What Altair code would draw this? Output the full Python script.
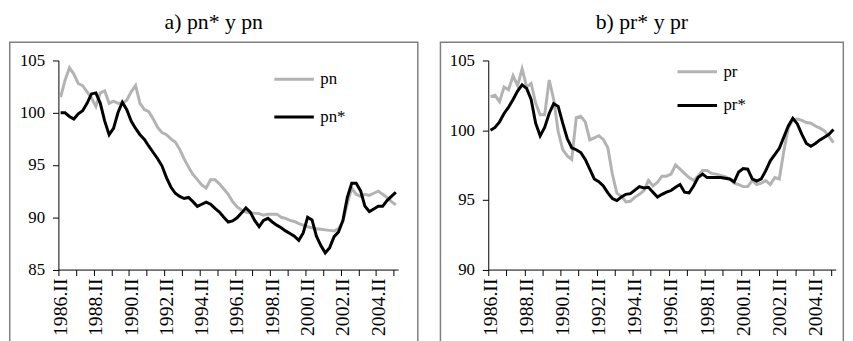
import json
import altair as alt
import pandas as pd

FONT = "Liberation Serif, Times New Roman, DejaVu Serif, serif"

# ---- data -------------------------------------------------------------
tick_labels = ["1986.II", "1988.II", "1990.II", "1992.II", "1994.II",
               "1996.II", "1998.II", "2000.II", "2002.II", "2004.II"]
roman = ["I", "II", "III", "IV"]
quarters = [f"{1986 + (q + 1) // 4}.{roman[(q + 1) % 4]}" for q in range(77)]

pn = [101.5, 103.1, 104.3, 103.7, 102.8, 102.6, 102.0, 101.4, 100.6, 101.9,
      102.1, 100.9, 101.1, 100.9, 100.9, 101.2, 102.0, 102.6, 100.9, 100.3,
      100.1, 99.4, 98.6, 98.1, 97.9, 97.5, 97.2, 96.5, 95.6, 94.8,
      94.1, 93.6, 93.1, 92.8, 93.6, 93.6, 93.2, 92.7, 92.2, 91.5,
      91.0, 90.7, 90.5, 90.4, 90.4, 90.35, 90.2, 90.3, 90.3, 90.3,
      90.0, 89.9, 89.7, 89.6, 89.4, 89.25, 89.1, 89.0, 88.9, 88.85,
      88.8, 88.75, 88.7, 88.9, 89.6, 91.3, 92.8, 92.2, 92.0, 92.2,
      92.1, 92.3, 92.5, 92.2, 91.9, 91.5, 91.2]

pn_star = [100.0, 100.0, 99.65, 99.4, 99.9, 100.2, 100.9, 101.8, 101.9, 100.9,
           99.2, 97.9, 98.5, 100.0, 101.0, 100.3, 99.2, 98.5, 97.9, 97.45,
           96.8, 96.2, 95.6, 94.9, 93.8, 92.9, 92.3, 92.0, 91.8, 91.9,
           91.5, 91.05, 91.25, 91.45, 91.25, 90.85, 90.5, 90.0, 89.55, 89.65,
           89.95, 90.4, 90.9, 90.5, 89.7, 89.1, 89.7, 89.9, 89.55, 89.25,
           89.0, 88.7, 88.45, 88.2, 87.8, 88.5, 90.0, 89.75, 88.2, 87.3,
           86.6, 87.1, 88.15, 88.6, 89.7, 91.9, 93.25, 93.25, 92.55, 91.05,
           90.55, 90.8, 91.05, 91.05, 91.6, 92.0, 92.4]

pr = [102.4, 102.5, 102.05, 103.1, 102.9, 103.9, 103.2, 104.4, 103.1, 103.35,
      101.95, 101.1, 101.1, 103.6, 102.2, 99.9, 98.6, 98.15, 97.9, 100.9,
      101.0, 100.6, 99.3, 99.45, 99.6, 99.34, 98.74, 96.85, 95.48, 95.25,
      94.85, 94.9, 95.2, 95.4, 95.67, 96.4, 96.0, 96.26, 96.7, 96.7,
      96.85, 97.5, 97.2, 96.9, 96.6, 96.4, 96.7, 97.1, 97.1, 96.9,
      96.85, 96.75, 96.66, 96.5, 96.2, 96.1, 95.95, 95.95, 96.38, 96.1,
      96.2, 96.38, 96.1, 96.6, 96.5, 98.5, 100.16, 100.75, 100.8, 100.7,
      100.55, 100.5, 100.3, 100.15, 99.95, 99.55, 99.1]

pr_star = [100.0, 100.2, 100.6, 101.2, 101.65, 102.2, 102.8, 103.25, 103.0, 102.2,
           100.5, 99.6, 100.2, 101.2, 101.9, 101.7, 100.5, 99.4, 98.74, 98.6,
           98.4, 97.9, 97.2, 96.5, 96.3, 96.0, 95.5, 95.1, 94.95, 95.2,
           95.4, 95.45, 95.7, 95.95, 95.86, 95.9, 95.55, 95.2, 95.4, 95.55,
           95.67, 95.9, 96.1, 95.55, 95.5, 96.0, 96.6, 96.85, 96.6, 96.6,
           96.6, 96.6, 96.55, 96.5, 96.3, 97.0, 97.25, 97.2, 96.5, 96.35,
           96.5, 97.1, 97.8, 98.25, 98.7, 99.5, 100.3, 100.85, 100.45, 99.7,
           99.05, 98.85, 99.05, 99.3, 99.5, 99.7, 100.05]

GRAY = "#b3b3b3"
FRAME = "#808080"
H = 211.6


def long_df(names, series):
    rows = []
    for name, vals in zip(names, series):
        for i, v in enumerate(vals):
            rows.append({"idx": i, "quarter": quarters[i], "value": v, "serie": name})
    return pd.DataFrame(rows)


def panel(df, names, ydom, yvals, W, frame, leg_x, leg_y, row_pad, title):
    cw = W / 77.0
    label_expr = ("datum.value % 8 === 0 ? " + json.dumps(tick_labels)
                  + "[datum.value / 8] : ''")
    x_axis = alt.Axis(
        values=list(range(0, 77, 4)), labelExpr=label_expr,
        tickOffset=-cw / 2, labelOffset=cw / 2,
        labelAngle=-90, labelAlign="right", labelBaseline="middle",
        labelOverlap=False, labelFlush=False, labelPadding=2.5,
        labelFont=FONT, labelFontSize=20, labelColor="black",
        tickSize=6, tickColor="black", domainColor="black",
        grid=False, title=None,
    )
    y_axis = alt.Axis(
        values=yvals, format="d", tickSize=6, tickColor="black",
        domainColor="black", labelFont=FONT, labelFontSize=17,
        labelColor="black", labelPadding=8, grid=False, title=None,
    )
    lines = alt.Chart(df).mark_line(strokeWidth=3).encode(
        x=alt.X("idx:Q", scale=alt.Scale(domain=[-0.5, 76.5], nice=False, zero=False),
                axis=x_axis),
        y=alt.Y("value:Q", scale=alt.Scale(domain=ydom, nice=False, zero=False),
                axis=y_axis),
        color=alt.Color(
            "serie:N",
            scale=alt.Scale(domain=names, range=[GRAY, "black"]),
            legend=alt.Legend(
                orient="none", legendX=leg_x, legendY=leg_y, title=None,
                symbolType="stroke", symbolSize=1600, symbolStrokeWidth=3,
                labelFont=FONT, labelFontSize=17, labelColor="black",
                labelOffset=5, rowPadding=row_pad, padding=0,
            ),
        ),
        order=alt.Order("idx:Q"),
    )
    fx1, fx2, fy1, fy2 = frame
    box = alt.Chart(pd.DataFrame({"f": [0]})).mark_rect(
        filled=False, stroke=FRAME, strokeWidth=1.5
    ).encode(x=alt.value(fx1), x2=alt.value(fx2), y=alt.value(fy1), y2=alt.value(fy2))
    return alt.layer(box, lines).properties(
        width=W, height=H,
        title=alt.TitleParams(title, frame="bounds", anchor="middle", font=FONT,
                              fontSize=22, fontWeight="normal", color="black",
                              baseline="bottom", offset=-14),
    )


df_a = long_df(["pn", "pn*"], [pn, pn_star])
df_b = long_df(["pr", "pr*"], [pr, pr_star])

left = panel(df_a, ["pn", "pn*"], [85, 105], [85, 90, 95, 100, 105], 343.7,
             (-49.25, 363.7, -18.4, 300), 217, -2.4, 8, "a) pn* y pn")
right = panel(df_b, ["pr", "pr*"], [90, 105], [90, 95, 100, 105], 351.6,
              (-48.4, 359.3, -18.4, 300), 190, -10, 4, "b) pr* y pr")

chart = alt.hconcat(left, right, spacing=20).resolve_scale(
    color="independent", y="independent", x="independent"
).properties(padding=0).configure_view(stroke="transparent")

chart.save("out.html", embed_options={"renderer": "svg", "actions": False})
